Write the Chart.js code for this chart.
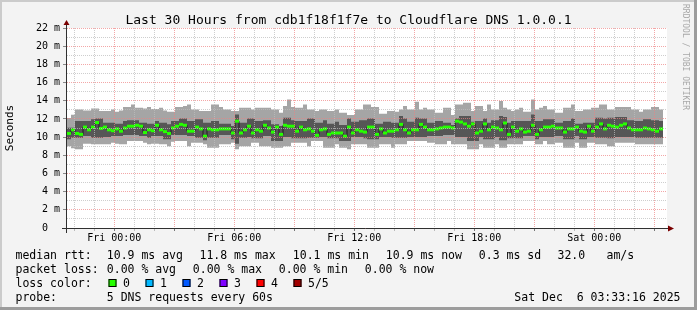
<!DOCTYPE html>
<html>
<head>
<meta charset="utf-8">
<script src="https://cdn.jsdelivr.net/npm/chart.js@4/dist/chart.umd.min.js"></script>
<style>
html,body{margin:0;padding:0;background:#f3f3f3;}
canvas{display:block;}
</style>
</head>
<body>
<canvas id="c" width="697" height="310"></canvas>
<script>
// ---------- data (values in milliseconds) ----------
const titleText = 'Last 30 Hours from cdb1f18f1f7e to Cloudflare DNS 1.0.0.1';
const startHour = -2.365;   // first column start, hours relative to Fri 00:00
const stepHours = 0.2;      // 12 minute consolidation step
const spanHours = 30;

const medianMs = [10.4,10.8,10.4,10.3,11.1,10.8,11.1,11.6,10.95,11.1,10.8,10.7,10.9,10.65,11.0,11.2,11.2,11.3,11.2,10.5,10.8,10.7,11.3,10.8,10.6,10.4,11.0,11.2,11.4,11.3,
 10.65,10.65,11.1,10.9,10.1,10.9,10.8,10.8,10.9,10.9,10.9,10.45,11.75,10.45,10.8,11.2,10.45,10.8,10.65,11.3,11.0,10.55,11.1,10.3,11.3,11.2,11.2,10.65,11.1,10.8,
 10.9,10.65,10.2,10.8,10.9,10.3,10.45,10.45,10.45,10.1,11.1,10.45,10.8,10.65,10.55,11.1,11.1,10.3,10.9,10.45,10.65,10.65,10.8,11.4,10.8,10.45,10.8,10.8,11.4,11.1,
 10.8,10.8,10.9,11.0,11.1,11.1,11.0,11.75,11.65,11.45,11.2,11.45,10.45,10.65,11.45,10.8,11.1,11.0,10.8,11.55,10.3,11.1,10.65,10.9,10.55,10.65,11.3,10.3,10.8,11.1,
 11.1,11.2,11.0,11.0,10.55,10.9,10.9,11.1,10.65,10.55,11.2,10.65,11.1,11.45,10.9,11.3,11.2,11.1,11.3,11.45,11.0,10.8,10.8,10.8,11.0,10.9,10.8,10.65,10.9];

const maxMs = [12.1,12.45,13.04,13.04,12.93,12.93,13.15,13.15,12.86,12.86,12.86,13.04,12.79,12.93,13.3,13.3,13.59,13.23,13.23,13.15,13.3,13.08,13.08,13.23,12.93,12.79,12.79,13.3,13.3,13.41,
 13.59,13.04,13.04,12.86,12.86,12.86,13.59,13.59,13.3,13.04,13.04,12.86,12.86,13.23,13.23,13.23,13.04,13.23,13.23,13.23,13.23,13.04,13.04,12.68,13.41,14.14,13.3,13.23,13.23,13.59,
 13.04,13.04,12.86,13.04,13.04,12.86,12.86,13.04,12.68,12.68,12.42,12.42,13.04,13.04,13.59,13.59,13.3,13.3,12.57,12.57,12.86,12.86,12.79,13.04,13.41,13.04,13.04,13.89,13.04,13.23,
 13.04,13.04,12.68,12.68,13.23,13.23,12.42,13.59,13.59,13.78,13.78,12.86,13.41,13.41,12.86,13.59,13.04,13.04,13.96,13.23,13.04,12.86,13.04,13.23,12.79,12.79,14.14,13.04,13.23,13.41,
 13.04,13.04,12.68,12.68,13.23,13.23,13.59,12.86,12.86,13.04,13.04,13.23,13.23,13.59,13.59,13.04,13.04,13.3,13.3,13.3,13.3,13.04,13.04,12.79,13.04,13.04,13.3,13.3,13.04];

const minMs = [9.0,8.76,8.65,8.65,9.27,9.27,9.2,9.2,9.2,9.2,9.2,9.38,9.27,9.2,9.2,9.56,9.56,9.56,9.56,9.38,9.2,9.27,9.27,9.2,9.2,9.0,9.49,9.56,9.56,9.56,
 9.0,9.38,9.38,9.38,9.2,8.83,8.83,8.83,9.2,9.2,9.2,9.38,8.65,9.0,9.0,9.0,9.38,9.38,9.0,9.0,9.0,8.83,8.83,8.83,9.0,9.0,9.38,9.38,9.38,9.38,
 9.0,9.56,9.56,9.56,8.83,8.83,8.83,9.2,8.83,8.83,8.65,9.2,9.2,9.2,9.2,8.83,8.83,8.83,9.2,9.2,9.2,8.83,9.2,9.2,9.2,9.56,9.56,9.56,9.56,9.56,
 9.38,9.38,9.2,9.2,9.2,9.56,9.2,9.2,9.2,9.2,8.65,8.65,8.65,9.2,8.83,8.83,8.83,9.2,8.83,8.83,9.2,9.2,9.2,9.2,9.56,9.56,9.56,9.2,9.2,9.56,
 9.2,9.2,9.38,9.38,8.83,8.83,8.83,9.38,8.83,8.83,9.38,9.38,9.2,9.2,9.2,9.0,9.0,9.38,9.38,9.38,9.38,9.38,9.2,9.2,9.2,9.2,9.2,9.2,9.2];

const lowerQuartMs = [9.75,9.93,9.93,9.93,10.11,10.11,9.93,9.93,9.93,10.0,10.0,10.11,10.11,10.11,10.22,10.22,10.22,10.22,10.11,10.11,9.93,10.11,10.11,10.11,9.75,9.75,10.22,10.22,10.22,10.22,
 10.11,10.11,9.93,9.93,9.64,9.93,9.93,9.93,10.22,10.22,10.22,9.75,9.27,9.93,9.93,10.0,9.86,9.86,9.86,10.11,10.11,9.56,9.56,9.56,10.0,10.0,9.86,9.86,9.86,9.86,
 9.93,9.93,9.93,10.0,10.0,9.86,9.86,9.86,9.56,9.56,9.56,10.0,10.0,10.0,9.86,9.75,9.75,9.75,10.0,10.0,10.0,9.93,9.93,9.93,9.93,10.0,10.0,10.0,10.0,10.0,
 10.11,10.11,10.11,10.11,10.22,10.22,10.22,10.0,10.0,10.0,9.56,9.56,9.56,10.0,9.75,9.75,9.75,10.0,9.64,9.64,9.86,9.86,9.86,9.86,10.11,10.11,10.11,9.75,10.0,10.0,
 10.0,10.0,10.11,10.11,9.75,9.75,9.75,10.11,9.75,9.75,10.0,10.0,9.93,9.93,9.93,9.86,9.86,10.0,10.0,10.0,10.0,10.0,9.93,9.93,9.93,9.93,9.93,9.93,9.93];

const upperQuartMs = [11.03,11.03,11.76,11.76,11.76,11.76,11.95,12.05,12.05,11.58,11.58,11.58,11.47,11.47,11.76,11.84,11.84,11.84,11.58,11.58,11.47,11.47,11.76,11.58,11.58,11.4,11.76,11.76,12.05,12.05,
 11.76,11.76,11.95,11.95,11.58,11.58,11.76,11.76,11.47,11.47,11.47,11.21,12.49,11.58,11.58,12.05,12.05,11.76,11.76,11.84,11.84,11.4,11.4,11.21,12.13,12.13,11.84,11.76,11.76,11.76,
 12.05,12.05,11.58,11.58,11.84,11.47,11.47,11.69,11.32,11.32,12.05,11.69,11.69,11.84,11.84,12.05,12.05,11.47,11.47,11.69,11.69,11.58,11.58,12.31,12.05,11.69,11.69,12.13,12.05,12.05,
 11.58,11.58,11.76,11.76,11.58,11.58,11.32,12.05,12.31,12.31,12.31,11.69,11.76,11.76,12.05,11.58,11.84,11.84,12.31,12.2,11.58,11.76,11.76,11.76,11.76,11.76,12.49,11.76,11.76,11.95,
 11.95,11.95,11.58,11.58,11.76,11.76,12.05,11.47,11.47,11.58,11.58,11.58,12.13,12.13,12.05,12.13,12.13,12.2,12.2,12.2,11.84,11.84,11.76,11.76,11.95,11.95,11.84,11.84,11.76];

const xTickHours  = [0, 6, 12, 18, 24];
const xTickLabels = ['Fri 00:00', 'Fri 06:00', 'Fri 12:00', 'Fri 18:00', 'Sat 00:00'];
const yMaxMs = 22;
const yUnit = ' m';

const legendMedian = ['median rtt:', '10.9 ms avg', '11.8 ms max', '10.1 ms min', '10.9 ms now', '0.3 ms sd', '32.0', 'am/s'];
const legendLoss   = ['packet loss:', '0.00 % avg', '0.00 % max', '0.00 % min', '0.00 % now'];
const lossLabels   = ['0', '1', '2', '3', '4', '5/5'];
const lossColors   = ['#26ff00', '#00b8ff', '#0059ff', '#7e00ff', '#ff0000', '#a00000'];
const probeText    = ['probe:', '5 DNS requests every 60s'];
const dateText     = 'Sat Dec  6 03:33:16 2025';
const watermark    = 'RRDTOOL / TOBI OETIKER';

// ---------- build series ----------
const n = medianMs.length;
const colStart = i => startHour + i * stepHours;
const stepSeries = arr => arr.map((v, i) => ({x: colStart(i), y: v})).concat([{x: colStart(n), y: arr[n - 1]}]);
const centerSeries = arr => arr.map((v, i) => ({x: colStart(i) + stepHours / 2, y: v}));

const MONO = '"DejaVu Sans Mono", "Liberation Mono", monospace';
const LIGHT = '#a5a5a5', DARK = '#565656';
const GRID_MINOR = 'rgba(190,190,190,0.75)', GRID_MAJOR = 'rgba(238,130,130,0.7)';
const ARROW = '#7a0000', AXIS = '#303030';

const decor = {
  id: 'decor',
  beforeDraw(chart) {
    const {ctx, chartArea: a, width, height} = chart;
    ctx.save();
    ctx.fillStyle = '#f3f3f3';
    ctx.fillRect(0, 0, width, height);
    ctx.fillStyle = '#cbcbcb';
    ctx.fillRect(0, 0, width, 2);
    ctx.fillRect(0, 0, 2, height);
    ctx.fillStyle = '#9c9c9c';
    ctx.fillRect(0, height - 3, width, 3);
    ctx.fillRect(width - 3, 0, 3, height);
    ctx.fillStyle = '#ffffff';
    ctx.fillRect(a.left, a.top, a.right - a.left, a.bottom - a.top);
    ctx.restore();
  },
  afterDraw(chart) {
    const {ctx, chartArea: a} = chart;
    ctx.save();
    // axes
    ctx.strokeStyle = AXIS;
    ctx.lineWidth = 1;
    ctx.beginPath();
    ctx.moveTo(a.left - 5, a.bottom + 0.5);
    ctx.lineTo(a.right + 2, a.bottom + 0.5);
    ctx.moveTo(a.left - 0.5, a.bottom + 5);
    ctx.lineTo(a.left - 0.5, a.top - 5);
    ctx.stroke();
    ctx.fillStyle = ARROW;
    ctx.beginPath();
    ctx.moveTo(a.right + 1, a.bottom - 2.5);
    ctx.lineTo(a.right + 7, a.bottom + 0.5);
    ctx.lineTo(a.right + 1, a.bottom + 3.5);
    ctx.closePath();
    ctx.fill();
    ctx.beginPath();
    ctx.moveTo(a.left - 3.5, a.top - 3);
    ctx.lineTo(a.left - 0.5, a.top - 8);
    ctx.lineTo(a.left + 2.5, a.top - 3);
    ctx.closePath();
    ctx.fill();

    // title
    ctx.fillStyle = '#000';
    ctx.font = '13px ' + MONO;
    ctx.textAlign = 'center';
    ctx.textBaseline = 'alphabetic';
    ctx.fillText(titleText, 348.5, 24);

    // legend
    ctx.font = '11.5px ' + MONO;
    ctx.textAlign = 'left';
    const row1X = [15.5, 106.8, 199.5, 292.8, 385.8, 478.8, 557.5, 606.5];
    legendMedian.forEach((t, i) => ctx.fillText(t, row1X[i], 259));
    const row2X = [15.5, 106.8, 192.8, 278.8, 364.8];
    legendLoss.forEach((t, i) => ctx.fillText(t, row2X[i], 273));
    ctx.fillText('loss color:', 15.5, 287);
    lossLabels.forEach((t, i) => {
      const bx = 108.5 + i * 37;
      ctx.fillStyle = lossColors[i];
      ctx.fillRect(bx, 279, 8, 8);
      ctx.strokeStyle = '#000';
      ctx.lineWidth = 1;
      ctx.strokeRect(bx + 0.5, 279.5, 7, 7);
      ctx.fillStyle = '#000';
      ctx.fillText(t, bx + 14.5, 287);
    });
    ctx.fillText(probeText[0], 15.5, 300.5);
    ctx.fillText(probeText[1], 106.8, 300.5);
    ctx.textAlign = 'right';
    ctx.fillText(dateText, 680.5, 300.5);

    // watermark
    ctx.save();
    ctx.translate(685, 4);
    ctx.rotate(Math.PI / 2);
    ctx.font = '8px ' + MONO;
    ctx.fillStyle = '#a8a8a8';
    ctx.textAlign = 'left';
    ctx.textBaseline = 'middle';
    ctx.fillText(watermark, 0, 0);
    ctx.restore();
    ctx.restore();
  }
};

new Chart(document.getElementById('c'), {
  type: 'line',
  data: {
    datasets: [
      {label: 'min', data: stepSeries(minMs), stepped: true, borderWidth: 0, borderColor: 'rgba(0,0,0,0)', pointRadius: 0, fill: false, order: 6},
      {label: 'max', data: stepSeries(maxMs), stepped: true, borderWidth: 0, borderColor: 'rgba(0,0,0,0)', pointRadius: 0, fill: 0, backgroundColor: LIGHT, order: 5},
      {label: 'q1', data: stepSeries(lowerQuartMs), stepped: true, borderWidth: 0, borderColor: 'rgba(0,0,0,0)', pointRadius: 0, fill: false, order: 4},
      {label: 'q3', data: stepSeries(upperQuartMs), stepped: true, borderWidth: 0, borderColor: 'rgba(0,0,0,0)', pointRadius: 0, fill: 2, backgroundColor: DARK, order: 3},
      {label: 'median steps', data: stepSeries(medianMs), stepped: true, borderWidth: 1, borderColor: '#1e1e1e', pointRadius: 0, fill: false, order: 2},
      {label: 'median', data: centerSeries(medianMs), showLine: false, pointStyle: 'line', pointRadius: 2, pointHoverRadius: 2,
       pointBorderWidth: 3, pointBorderColor: lossColors[0], pointBackgroundColor: lossColors[0], order: 1}
    ]
  },
  options: {
    responsive: false,
    animation: false,
    events: [],
    layout: {padding: {top: 28, left: 0, right: 30, bottom: 60}},
    plugins: {legend: {display: false}, tooltip: {enabled: false}, title: {display: false}},
    scales: {
      x: {
        type: 'linear',
        min: startHour,
        max: startHour + spanHours,
        afterFit: s => { s.height = 22; },
        afterBuildTicks: s => {
          const t = [];
          for (let h = Math.ceil(s.min); h <= Math.floor(s.max); h++) t.push({value: h});
          s.ticks = t;
        },
        ticks: {
          autoSkip: false, maxRotation: 0, padding: 1,
          color: '#000', font: {family: MONO, size: 10},
          callback: v => { const k = xTickHours.indexOf(v); return k >= 0 ? xTickLabels[k] : ''; }
        },
        grid: {
          z: 1, lineWidth: 1, tickLength: 3,
          color: c => (((c.tick.value % 3) + 3) % 3 === 0 ? GRID_MAJOR : GRID_MINOR),
          tickColor: c => (((c.tick.value % 3) + 3) % 3 === 0 ? '#777' : '#bbb')
        },
        border: {display: false, dash: [1, 1]}
      },
      y: {
        type: 'linear',
        min: 0,
        max: yMaxMs,
        afterFit: s => { s.width = 67; },
        title: {display: true, text: 'Seconds', color: '#000', font: {family: MONO, size: 11}, padding: {top: 4, bottom: 0}},
        ticks: {
          stepSize: 1, autoSkip: false, padding: 3, color: '#000', font: {family: MONO, size: 10},
          callback: v => (v % 2 !== 0 ? '' : (v === 0 ? '0  ' : v + yUnit))
        },
        grid: {
          z: 1, lineWidth: 1, tickLength: 4,
          color: c => (c.tick.value % 2 === 0 ? GRID_MAJOR : GRID_MINOR),
          tickColor: c => (c.tick.value % 2 === 0 ? '#888' : 'rgba(0,0,0,0)')
        },
        border: {display: false, dash: [1, 1]}
      }
    }
  },
  plugins: [decor]
});
</script>
</body>
</html>
